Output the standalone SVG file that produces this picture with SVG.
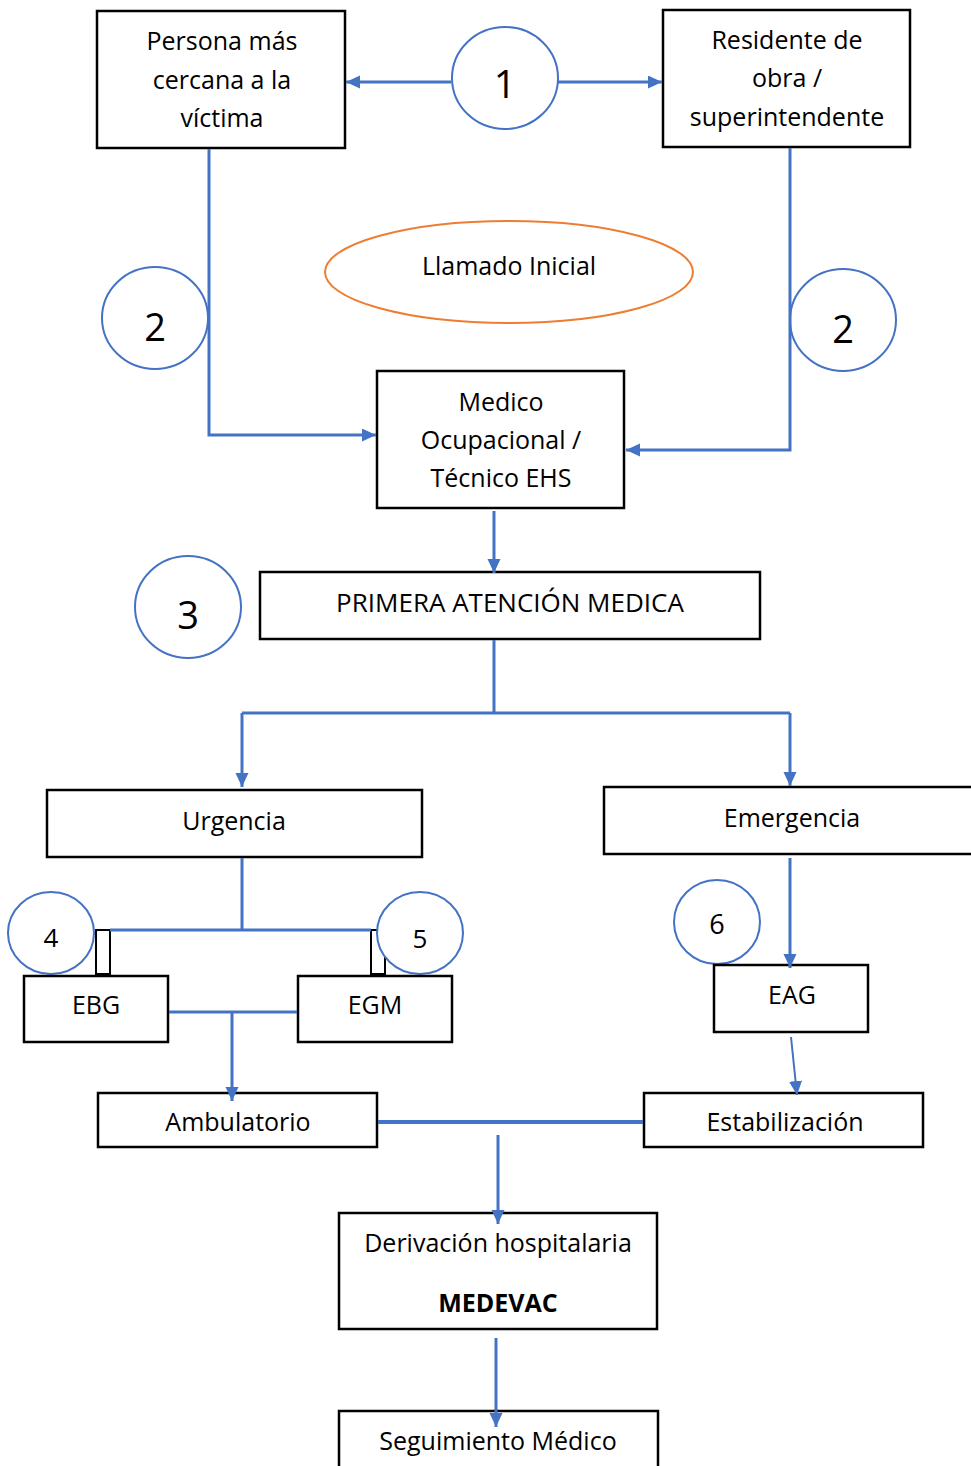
<svg xmlns="http://www.w3.org/2000/svg" width="971" height="1466" viewBox="0 0 971 1466">
<style>
.box{fill:#fff;stroke:#000;stroke-width:2.5}
.num{fill:#fff;stroke:#4472C4;stroke-width:2}
.t{font-family:"Open Sans","Liberation Sans",sans-serif;font-size:25px;fill:#000;text-anchor:middle}
.c{stroke:#4472C4;stroke-width:3;fill:none}
.thin{stroke:#4472C4;stroke-width:2;fill:none}
</style>
<defs>
<marker id="ah" markerUnits="userSpaceOnUse" markerWidth="16" markerHeight="14" refX="14" refY="6.5" orient="auto">
<path d="M0,0 L14,6.5 L0,13 Z" fill="#4472C4"/>
</marker>
</defs>
<rect width="971" height="1466" fill="#fff"/>
<g id="n-persona">
<rect class="box" x="97" y="11" width="248" height="137"/>
<text class="t" x="222" y="50">Persona más</text>
<text class="t" x="222" y="89">cercana a la</text>
<text class="t" x="222" y="127">víctima</text>
</g>
<g id="n-residente">
<rect class="box" x="663" y="10" width="247" height="137"/>
<text class="t" x="787" y="49">Residente de</text>
<text class="t" x="787" y="87">obra /</text>
<text class="t" x="787" y="126">superintendente</text>
</g>
<g id="n-c1">
<ellipse class="num" cx="505" cy="78" rx="53" ry="51"/>
<text class="t" x="505" y="98" style="font-size:39px">1</text>
</g>
<g id="n-llamado">
<ellipse cx="509" cy="272" rx="184" ry="51" fill="#fff" stroke="#ED7D31" stroke-width="2"/>
<text class="t" x="509" y="275">Llamado Inicial</text>
</g>
<g id="n-c2l">
<ellipse class="num" cx="155" cy="318" rx="53" ry="51"/>
<text class="t" x="155" y="341" style="font-size:38px">2</text>
</g>
<g id="n-c2r">
<ellipse class="num" cx="843" cy="320" rx="53" ry="51"/>
<text class="t" x="843" y="343" style="font-size:38px">2</text>
</g>
<g id="n-medico">
<rect class="box" x="377" y="371" width="247" height="137"/>
<text class="t" x="501" y="411">Medico</text>
<text class="t" x="501" y="449">Ocupacional /</text>
<text class="t" x="501" y="487">Técnico EHS</text>
</g>
<g id="n-c3">
<ellipse class="num" cx="188" cy="607" rx="53" ry="51"/>
<text class="t" x="188" y="629" style="font-size:38px">3</text>
</g>
<g id="n-primera">
<rect class="box" x="260" y="572" width="500" height="67"/>
<text class="t" x="510" y="612" style="font-size:26px">PRIMERA ATENCIÓN MEDICA</text>
</g>
<g id="n-urgencia">
<rect class="box" x="47" y="790" width="375" height="67"/>
<text class="t" x="234" y="830">Urgencia</text>
</g>
<g id="n-emergencia">
<rect class="box" x="604" y="787" width="380" height="67"/>
<text class="t" x="792" y="827">Emergencia</text>
</g>
<g id="n-tabs">
<rect class="box" style="stroke-width:2" x="96" y="930" width="14" height="44"/>
<rect class="box" style="stroke-width:2" x="371" y="930" width="14" height="44"/>
</g>
<g id="n-c4">
<ellipse class="num" cx="51" cy="933" rx="43" ry="41"/>
<text class="t" x="51" y="947" style="font-size:26px">4</text>
</g>
<g id="n-c5">
<ellipse class="num" cx="420" cy="933" rx="43" ry="41"/>
<text class="t" x="420" y="948" style="font-size:26px">5</text>
</g>
<g id="n-ebg">
<rect class="box" x="24" y="976" width="144" height="66"/>
<text class="t" x="96" y="1014">EBG</text>
</g>
<g id="n-egm">
<rect class="box" x="298" y="976" width="154" height="66"/>
<text class="t" x="375" y="1014">EGM</text>
</g>
<g id="n-c6">
<ellipse class="num" cx="717" cy="922" rx="43" ry="42"/>
<text class="t" x="717" y="934" style="font-size:27px">6</text>
</g>
<g id="n-eag">
<rect class="box" x="714" y="965" width="154" height="67"/>
<text class="t" x="792" y="1004">EAG</text>
</g>
<g id="n-ambulatorio">
<rect class="box" x="98" y="1093" width="279" height="54"/>
<text class="t" x="238" y="1131">Ambulatorio</text>
</g>
<g id="n-estabilizacion">
<rect class="box" x="644" y="1093" width="279" height="54"/>
<text class="t" x="785" y="1131">Estabilización</text>
</g>
<g id="n-derivacion">
<rect class="box" x="339" y="1213" width="318" height="116"/>
<text class="t" x="498" y="1252">Derivación hospitalaria</text>
<text class="t" x="498" y="1312" style="font-weight:bold">MEDEVAC</text>
</g>
<g id="n-seguimiento">
<rect class="box" x="339" y="1411" width="319" height="70"/>
<text class="t" x="498" y="1450">Seguimiento Médico</text>
</g>
<g id="connectors">
<line class="c" x1="451" y1="82" x2="346" y2="82" marker-end="url(#ah)"/>
<line class="c" x1="558" y1="82" x2="662" y2="82" marker-end="url(#ah)"/>
<polyline class="c" points="209,149 209,435 376,435" marker-end="url(#ah)"/>
<polyline class="c" points="790,148 790,450 626,450" marker-end="url(#ah)"/>
<line class="c" x1="494" y1="511" x2="494" y2="573" marker-end="url(#ah)"/>
<polyline class="c" points="494,640 494,713"/>
<polyline class="c" points="242,713 790,713"/>
<line class="c" x1="242" y1="713" x2="242" y2="787" marker-end="url(#ah)"/>
<line class="c" x1="790" y1="713" x2="790" y2="786" marker-end="url(#ah)"/>
<polyline class="c" points="242,858 242,930"/>
<polyline class="c" points="110,930 371,930"/>
<polyline class="c" points="169,1012 297,1012"/>
<line class="c" x1="232" y1="1012" x2="232" y2="1101" marker-end="url(#ah)"/>
<line class="c" x1="790" y1="858" x2="790" y2="968" marker-end="url(#ah)"/>
<line class="thin" x1="791" y1="1037" x2="797" y2="1095" marker-end="url(#ah)"/>
<line stroke="#4472C4" stroke-width="4" x1="378" y1="1122" x2="643" y2="1122"/>
<line class="c" x1="498" y1="1135" x2="498" y2="1224" marker-end="url(#ah)"/>
<line class="c" x1="496" y1="1338" x2="496" y2="1427" marker-end="url(#ah)"/>
</g>
</svg>
